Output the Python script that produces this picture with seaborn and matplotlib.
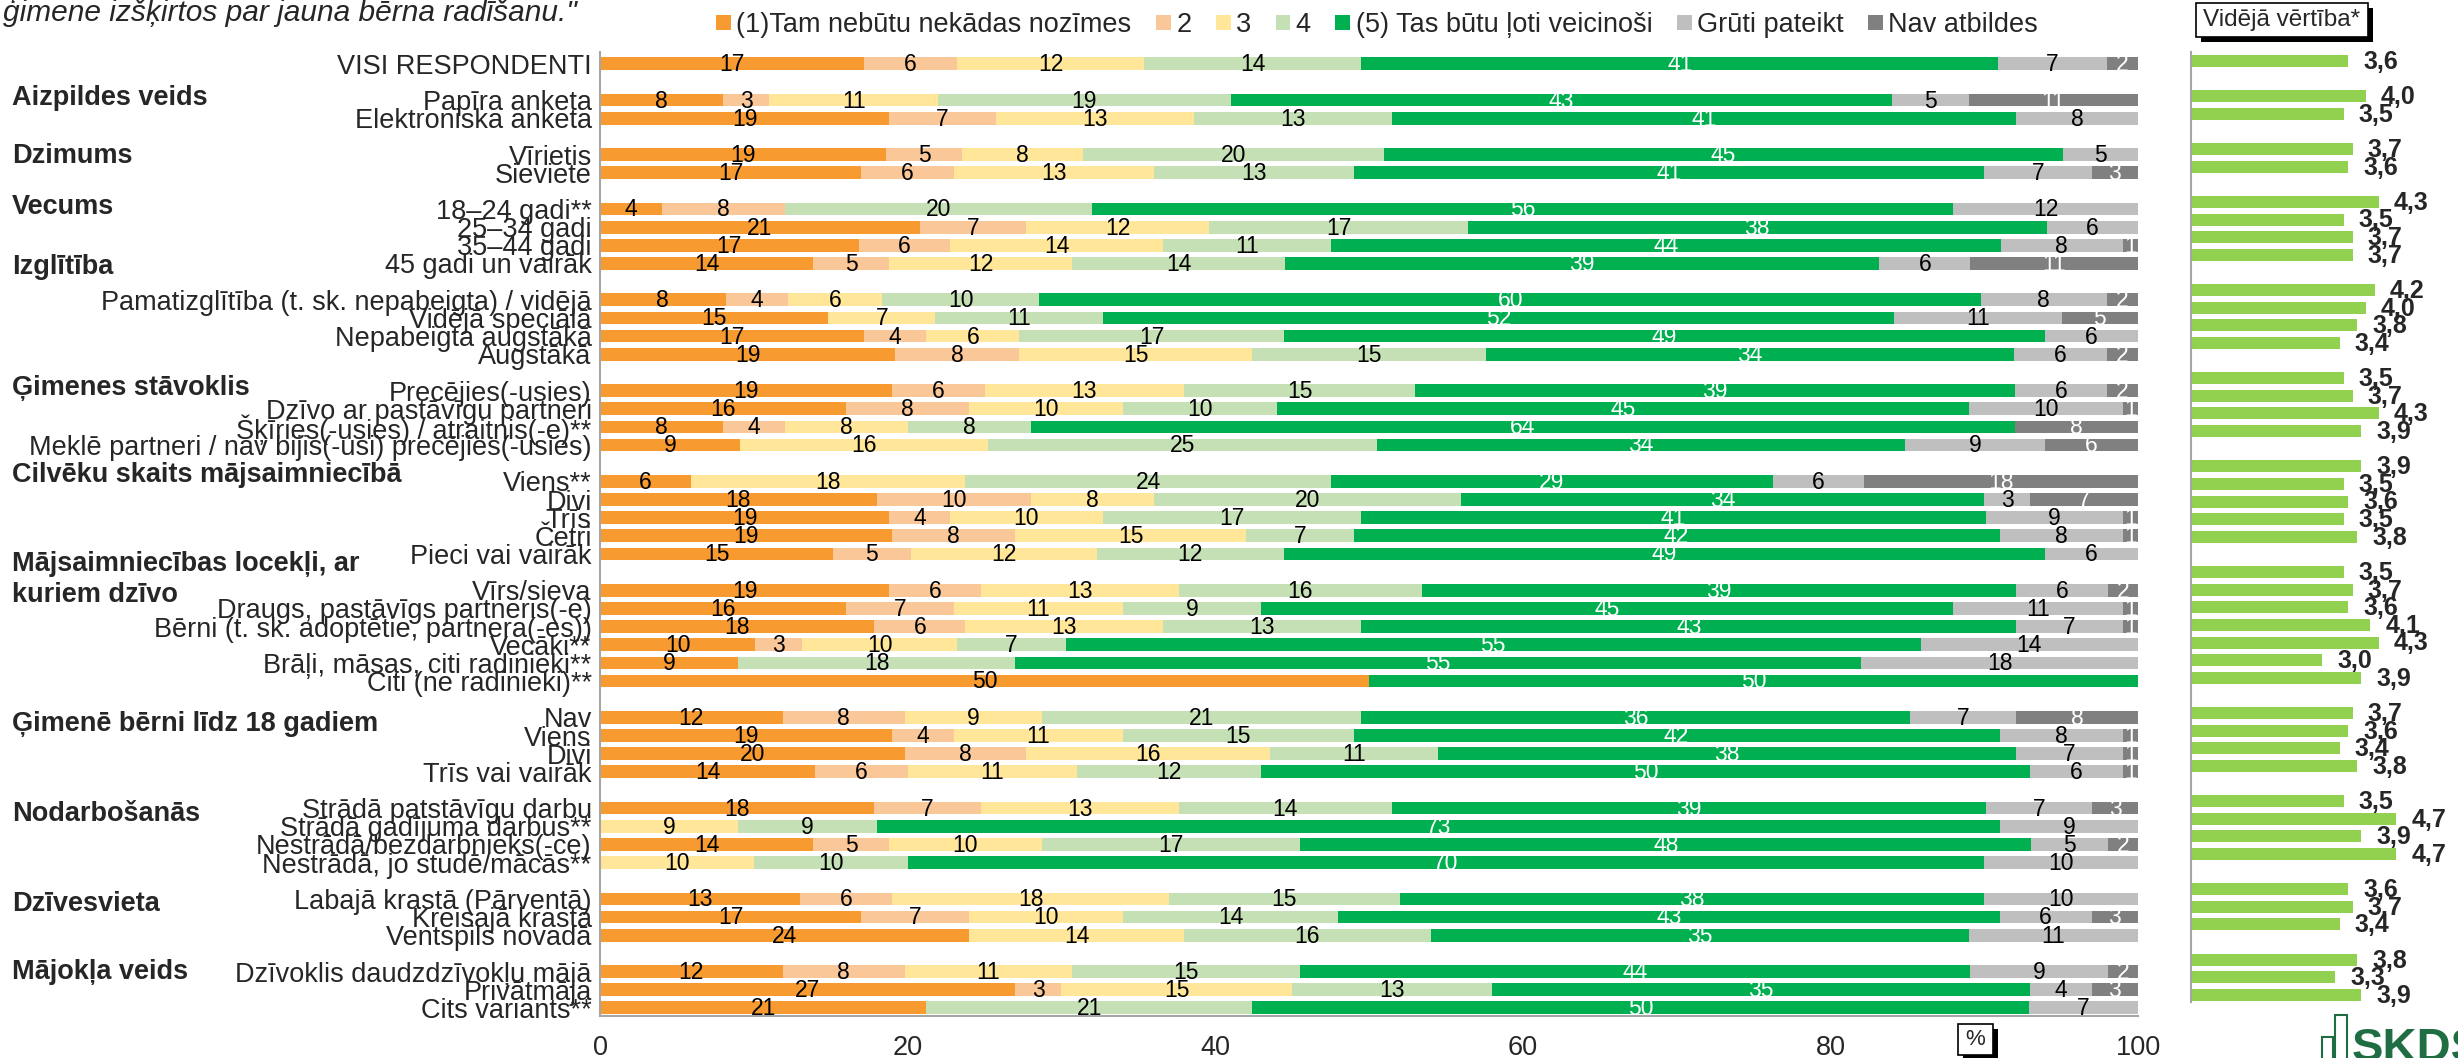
import numpy as np
import matplotlib
matplotlib.use("Agg")
import matplotlib.pyplot as plt
import matplotlib.transforms as mtransforms
from matplotlib.patches import Patch, Rectangle
import seaborn as sns

# ---- data ----
row_labels = [
    "VISI RESPONDENTI",
    "Papīra anketa", "Elektroniska anketa",
    "Vīrietis", "Sieviete",
    "18–24 gadi**", "25–34 gadi", "35–44 gadi", "45 gadi un vairāk",
    "Pamatizglītība (t. sk. nepabeigta) / vidējā", "Vidējā speciālā",
    "Nepabeigta augstākā", "Augstākā",
    "Precējies(-usies)", "Dzīvo ar pastāvīgu partneri",
    "Šķīries(-usies) / atraitnis(-e)**",
    "Meklē partneri / nav bijis(-usi) precējies(-usies)",
    "Viens**", "Divi", "Trīs", "Četri", "Pieci vai vairāk",
    "Vīrs/sieva", "Draugs, pastāvīgs partneris(-e)",
    "Bērni (t. sk. adoptētie, partnera(-es))", "Vecāki**",
    "Brāļi, māsas, citi radinieki**", "Citi (ne radinieki)**",
    "Nav", "Viens", "Divi", "Trīs vai vairāk",
    "Strādā patstāvīgu darbu", "Strādā gadījuma darbus**",
    "Nestrādā/bezdarbnieks(-ce)", "Nestrādā, jo studē/mācās**",
    "Labajā krastā (Pārventā)", "Kreisajā krastā", "Ventspils novadā",
    "Dzīvoklis daudzdzīvokļu mājā", "Privātmāja", "Cits variants**",
]
group_sizes = [1, 2, 2, 4, 4, 4, 5, 6, 4, 4, 3, 3]
group_titles = [
    "Aizpildes veids", "Dzimums", "Vecums", "Izglītība", "Ģimenes stāvoklis",
    "Cilvēku skaits mājsaimniecībā", "Mājsaimniecības locekļi, ar\nkuriem dzīvo",
    "Ģimenē bērni līdz 18 gadiem", "Nodarbošanās", "Dzīvesvieta", "Mājokļa veids",
]

legend_labels = ["(1)Tam nebūtu nekādas nozīmes", "2", "3", "4",
                 "(5) Tas būtu ļoti veicinoši", "Grūti pateikt", "Nav atbildes"]

tam_nebutu = [17, 8, 19, 19, 17, 4, 21, 17, 14, 8, 15, 17, 19, 19, 16, 8, 9, 6, 18, 19, 19, 15,
              19, 16, 18, 10, 9, 50, 12, 19, 20, 14, 18, 0, 14, 0, 13, 17, 24, 12, 27, 21]
vertejums_2 = [6, 3, 7, 5, 6, 8, 7, 6, 5, 4, 0, 4, 8, 6, 8, 4, 0, 0, 10, 4, 8, 5,
               6, 7, 6, 3, 0, 0, 8, 4, 8, 6, 7, 0, 5, 0, 6, 7, 0, 8, 3, 0]
vertejums_3 = [12, 11, 13, 8, 13, 0, 12, 14, 12, 6, 7, 6, 15, 13, 10, 8, 16, 18, 8, 10, 15, 12,
               13, 11, 13, 10, 0, 0, 9, 11, 16, 11, 13, 9, 10, 10, 18, 10, 14, 11, 15, 0]
vertejums_4 = [14, 19, 13, 20, 13, 20, 17, 11, 14, 10, 11, 17, 15, 15, 10, 8, 25, 24, 20, 17, 7, 12,
               16, 9, 13, 7, 18, 0, 21, 15, 11, 12, 14, 9, 17, 10, 15, 14, 16, 15, 13, 21]
veicinosi = [41, 43, 41, 45, 41, 56, 38, 44, 39, 60, 52, 49, 34, 39, 45, 64, 34, 29, 34, 41, 42, 49,
             39, 45, 43, 55, 55, 50, 36, 42, 38, 50, 39, 73, 48, 70, 38, 43, 35, 44, 35, 50]
gruti_pateikt = [7, 5, 8, 5, 7, 12, 6, 8, 6, 8, 11, 6, 6, 6, 10, 0, 9, 6, 3, 9, 8, 6,
                 6, 11, 7, 14, 18, 0, 7, 8, 7, 6, 7, 9, 5, 10, 10, 6, 11, 9, 4, 7]
nav_atbildes = [2, 11, 0, 0, 3, 0, 0, 1, 11, 2, 5, 0, 2, 2, 1, 8, 6, 18, 7, 1, 1, 0,
                2, 1, 1, 0, 0, 0, 8, 1, 1, 1, 3, 0, 2, 0, 0, 3, 0, 2, 3, 0]

# average score panel (has one more bar in the household members group)
mean_group_sizes = [1, 2, 2, 4, 4, 4, 5, 7, 4, 4, 3, 3]
mean_values = [3.6,
               4.0, 3.5,
               3.7, 3.6,
               4.3, 3.5, 3.7, 3.7,
               4.2, 4.0, 3.8, 3.4,
               3.5, 3.7, 4.3, 3.9,
               3.9, 3.5, 3.6, 3.5, 3.8,
               3.5, 3.7, 3.6, 4.1, 4.3, 3.0, 3.9,
               3.7, 3.6, 3.4, 3.8,
               3.5, 4.7, 3.9, 4.7,
               3.6, 3.7, 3.4,
               3.8, 3.3, 3.9]

colors = ["#F79A30", "#FAC898", "#FFE699", "#C5E0B4", "#00B050", "#BFBFBF", "#808080"]
label_colors = ["black", "black", "black", "black", "white", "black", "white"]


def slot_positions(sizes):
    pos, s = [], 0
    for n in sizes:
        pos.extend(range(s, s + n))
        s += n + 1
    return pos


sns.set_theme(style="white")
plt.rcParams["font.family"] = ["Liberation Sans", "DejaVu Sans"]

W, H = 2458, 1058
fig = plt.figure(figsize=(W / 100, H / 100), dpi=100)


def fx(px):
    return px / W


def fy(py):
    return 1 - py / H


ax = fig.add_axes([fx(600), fy(1016), fx(2138) - fx(600), fy(52) - fy(1016)])
rax = fig.add_axes([fx(2191), fy(1002), 5 * 43.7 / W, fy(52) - fy(1002)])

# ---- stacked bars ----
ypos = slot_positions(group_sizes)
vals = np.array([tam_nebutu, vertejums_2, vertejums_3, vertejums_4,
                 veicinosi, gruti_pateikt, nav_atbildes]).T
widths = vals / vals.sum(axis=1, keepdims=True) * 100
cum = widths.cumsum(axis=1)

for k in reversed(range(7)):
    sns.barplot(x=cum[:, k], y=ypos, orient="h", native_scale=True, color=colors[k],
                saturation=1, width=0.7, errorbar=None, linewidth=0, ax=ax)

for i, y in enumerate(ypos):
    for k in range(7):
        if vals[i, k] > 0:
            ax.text(cum[i, k] - widths[i, k] / 2, y + 0.05, str(vals[i, k]), ha="center",
                    va="center", fontsize=16.5, color=label_colors[k])

ax.set_xlim(0, 100)
ax.set_ylim(52.45, -0.65)
ax.set_xticks(range(0, 101, 20))
ax.set_yticks(ypos)
ax.set_yticklabels(row_labels, fontsize=19.5)
ax.tick_params(axis="y", length=0, pad=6)
ax.tick_params(axis="x", direction="in", length=6, color="#A6A6A6", labelsize=19.5, pad=14)
ax.set_xlabel("")
ax.set_ylabel("")
ax.spines[["top", "right"]].set_visible(False)
for s in ["left", "bottom"]:
    ax.spines[s].set_color("#A6A6A6")
    ax.spines[s].set_linewidth(1.5)

# group headers
header_slots = [1.89, 5.08, 7.9, 11.2, 17.86, 22.65, 28.38, 36.35, 41.3, 46.3, 50.0]
trans = mtransforms.blended_transform_factory(fig.transFigure, ax.transData)
for title, slot in zip(group_titles, header_slots):
    ax.text(fx(12), slot, title, transform=trans, fontsize=19.5, fontweight="bold",
            ha="left", va="center", linespacing=1.25)

# ---- mean values panel ----
rpos = slot_positions(mean_group_sizes)
sns.barplot(x=mean_values, y=rpos, orient="h", native_scale=True, color="#92D050",
            saturation=1, width=0.68, errorbar=None, linewidth=0, ax=rax)
for v, y in zip(mean_values, rpos):
    rax.text(v + 15 / 43.7, y + 0.05, f"{v:.1f}".replace(".", ","), fontsize=18,
             fontweight="bold", ha="left", va="center", clip_on=False)
rax.set_xlim(0, 5)
rax.set_ylim(53.4, -0.51)
rax.set_xticks([])
rax.set_yticks([])
rax.set_xlabel("")
rax.set_ylabel("")
rax.spines[["top", "right", "bottom"]].set_visible(False)
rax.spines["left"].set_color("#A6A6A6")
rax.spines["left"].set_linewidth(1.5)


def boxed_text(x0, y0, x1, y1, text, size):
    fig.add_artist(Rectangle((fx(x0 + 5), fy(y1 + 5)), fx(x1) - fx(x0), fy(y0) - fy(y1),
                             transform=fig.transFigure, facecolor="black", edgecolor="none"))
    fig.add_artist(Rectangle((fx(x0), fy(y1)), fx(x1) - fx(x0), fy(y0) - fy(y1),
                             transform=fig.transFigure, facecolor="white", edgecolor="black",
                             linewidth=1.2))
    fig.text(fx((x0 + x1) / 2), fy((y0 + y1) / 2), text, fontsize=size, ha="center", va="center")


boxed_text(2196, 3, 2368, 37, "Vidējā vērtība*", 17.5)
boxed_text(1958, 1024, 1993, 1055, "%", 16)

# legend
handles = [Patch(facecolor=c, edgecolor="none") for c in colors]
fig.legend(handles, legend_labels, loc="center left", bbox_to_anchor=(fx(716), fy(25)),
           ncol=7, frameon=False, fontsize=19.5, handlelength=0.55, handleheight=0.5,
           handletextpad=0.2, columnspacing=0.9, borderaxespad=0, borderpad=0)

# cut-off question text at the top
fig.text(fx(3), fy(21), "ģimene izšķirtos par jauna bērna radīšanu.\"", fontsize=21.5,
         style="italic", va="baseline")

# logo (cut off at the bottom edge)
fig.add_artist(Rectangle((fx(2335), fy(1060)), fx(12), fy(1015) - fy(1060),
                         transform=fig.transFigure, facecolor="none", edgecolor="#1F6E43", lw=1.5))
fig.add_artist(Rectangle((fx(2322), fy(1060)), fx(11), fy(1037) - fy(1060),
                         transform=fig.transFigure, facecolor="none", edgecolor="#1F6E43", lw=1.5))
fig.text(fx(2352), fy(1027), "SKDS", fontsize=34, fontweight="bold", color="#1F6E43", va="top")

fig.savefig("out.png", dpi=100)
plt.close(fig)
print("Chart saved: out.png")
